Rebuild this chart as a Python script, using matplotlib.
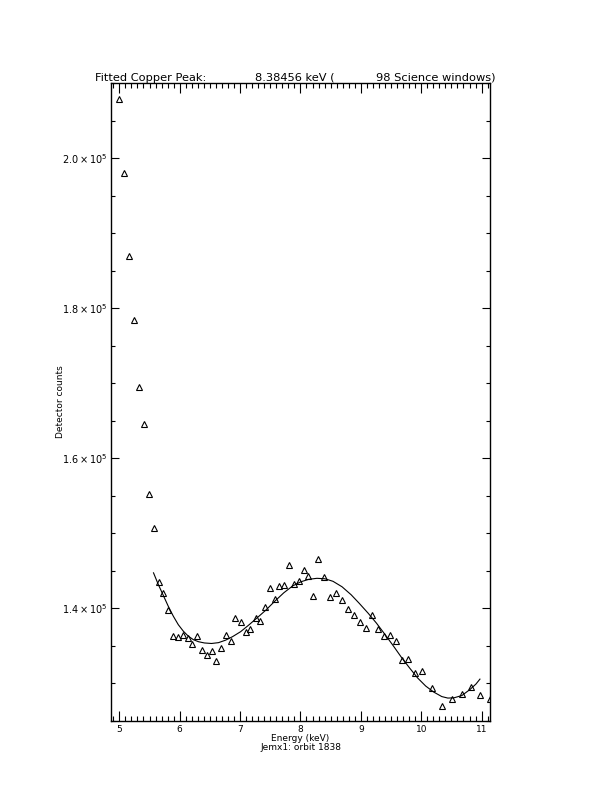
import matplotlib
matplotlib.use("Agg")
import matplotlib.pyplot as plt
from matplotlib.ticker import FixedLocator, MultipleLocator, FuncFormatter

# measured detector counts (triangles)
energy = [5.000, 5.083, 5.166, 5.250, 5.328, 5.406, 5.483, 5.566, 5.649, 5.727,
          5.810, 5.882, 5.965, 6.055, 6.138, 6.210, 6.288, 6.371, 6.448, 6.531,
          6.604, 6.687, 6.764, 6.847, 6.920, 7.008, 7.092, 7.170, 7.258, 7.329,
          7.408, 7.491, 7.574, 7.652, 7.735, 7.812, 7.895, 7.973, 8.055, 8.133,
          8.213, 8.296, 8.386, 8.484, 8.581, 8.680, 8.784, 8.880, 8.983, 9.085,
          9.191, 9.288, 9.383, 9.484, 9.589, 9.684, 9.787, 9.895, 10.020, 10.183,
          10.338, 10.504, 10.669, 10.827, 10.982, 11.140]
counts = [207960, 198060, 187010, 178420, 169450, 164580, 155300, 150650, 143550, 142040,
          139730, 136310, 136180, 136450, 136010, 135210, 136310, 134450, 133790, 134240,
          132910, 134640, 136410, 135570, 138670, 138100, 136770, 137210, 138710, 138340,
          140200, 142700, 141170, 142950, 143090, 145750, 143190, 143620, 145060, 144350,
          141640, 146630, 144150, 141500, 142040, 141090, 139930, 139140, 138100, 137340,
          139110, 137210, 136310, 136430, 135640, 133120, 133250, 131350, 131660, 129350,
          127000, 127930, 128560, 129530, 128450, 127960]

# fitted curve
fit_energy = [5.566, 5.644, 5.727, 5.810, 5.894, 5.977, 6.060, 6.143, 6.226, 6.309,
              6.409, 6.526, 6.642, 6.759, 6.875, 7.008, 7.141, 7.275, 7.424, 7.574,
              7.724, 7.874, 8.007, 8.140, 8.273, 8.406, 8.539, 8.689, 8.839, 8.972,
              9.122, 9.260, 9.409, 9.542, 9.676, 9.809, 9.942, 10.075, 10.208, 10.341,
              10.441, 10.541, 10.674, 10.807, 10.907, 10.973]
fit_counts = [144720, 143190, 141730, 140270, 138940, 137800, 136940, 136270, 135810, 135540,
              135370, 135300, 135410, 135740, 136210, 136870, 137740, 138670, 139730, 140930,
              142060, 142990, 143530, 143860, 143990, 143930, 143590, 142860, 141800, 140670,
              139330, 138000, 136410, 134940, 133410, 132020, 130690, 129620, 128820, 128220,
              128020, 128050, 128360, 129160, 129890, 130550]

y_ticks = [1.4e5, 1.6e5, 1.8e5, 2.0e5]

fig = plt.figure(figsize=(6.12, 7.92), dpi=100)
ax = fig.add_axes([0.1809, 0.0900, 0.6198, 0.8048])

ax.plot(energy, counts, linestyle="none", marker="^", ms=5, mfc="none",
        mec="black", mew=0.8)
ax.plot(fit_energy, fit_counts, color="black", lw=0.8)

ax.set_xlim(4.857, 11.14)
ax.set_ylim(1.25e5, 2.1e5)

ax.xaxis.set_major_locator(MultipleLocator(1))
ax.xaxis.set_minor_locator(MultipleLocator(0.1))
ax.yaxis.set_major_locator(FixedLocator(y_ticks))
ax.yaxis.set_minor_locator(MultipleLocator(0.05e5))
ax.yaxis.set_major_formatter(FuncFormatter(
    lambda v, p: r"$%.1f\times10^{5}$" % (v / 1e5)))

ax.tick_params(axis="both", which="both", direction="in", top=True, right=True,
               labelsize=6.5, width=0.8, color="black")
ax.tick_params(axis="x", which="major", length=7, pad=3)
ax.tick_params(axis="x", which="minor", length=3.8)
ax.tick_params(axis="y", which="major", length=5.8, pad=2, labelsize=7)
ax.tick_params(axis="y", which="minor", length=3.2)
for s in ax.spines.values():
    s.set_linewidth(1.0)

fig.text(0.0992, 0.4924, "Detector counts", rotation=90, ha="center",
         va="center", fontsize=6.5)
fig.text(0.490, 1 - 741 / 792, "Energy (keV)", ha="center", va="baseline",
         fontsize=6.5)
fig.text(0.492, 1 - 750.5 / 792, "Jemx1: orbit 1838", ha="center",
         va="baseline", fontsize=6.5)

title_y = 1 - 81 / 792
fig.text(95 / 612, title_y, "Fitted Copper Peak:", fontsize=8.2, va="baseline")
fig.text(255 / 612, title_y, "8.38456 keV (", fontsize=8.2, va="baseline")
fig.text(376 / 612, title_y, "98 Science windows)", fontsize=8.2, va="baseline")

fig.savefig("out.png", dpi=100, facecolor="white")
